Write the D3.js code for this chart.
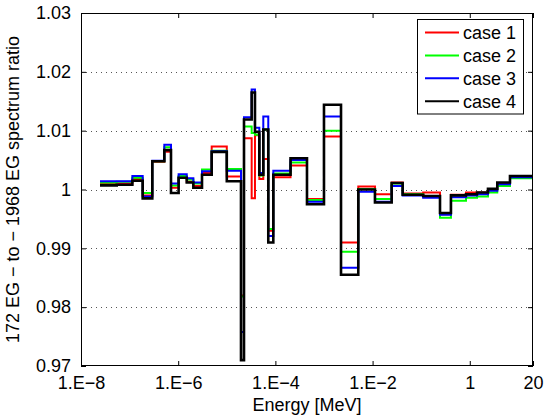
<!DOCTYPE html>
<html>
<head>
<meta charset="utf-8">
<script src="https://cdn.jsdelivr.net/npm/d3@7/dist/d3.min.js"></script>
<style>
  html, body { margin: 0; padding: 0; background: #fff; }
  svg { display: block; font-family: "Liberation Sans", Arial, Helvetica, sans-serif; }
</style>
</head>
<body>
<svg id="chart" width="551" height="418"></svg>
<script>
// Group boundaries [MeV]
const energyEdges = [2.46e-8, 5.43e-8, 1.14e-7, 1.86e-7, 2.93e-7, 5.18e-7, 7.11e-7, 1.02e-6,
  1.50e-6, 2.05e-6, 3.09e-6, 4.89e-6, 1.0e-5, 1.96e-5, 2.26e-5, 3.25e-5, 3.80e-5, 4.67e-5,
  5.64e-5, 7.14e-5, 9.06e-5, 2.05e-4, 4.47e-4, 1.0e-3, 2.24e-3, 5.08e-3, 1.12e-2, 2.47e-2,
  4.16e-2, 0.110, 0.244, 0.410, 0.836, 1.41, 2.37, 3.68, 6.72, 20];

const case1 = [1.0010, 1.0010, 1.0018, 0.9990, 1.0047, 1.0064, 1.0003, 1.0020, 1.0013, 1.0006,
  1.0028, 1.0073, 1.0022, 0.9820, 1.0087, 0.9985, 1.0092, 1.0018, 1.0052, 0.9930,
  1.0021, 1.0041, 0.9984, 1.0090, 0.9910, 1.0005, 0.9992, 1.0012, 0.9993, 0.9995,
  0.9958, 0.9991, 0.9995, 0.9995, 1.0001, 1.0011, 1.0022];
const case2 = [1.0012, 1.0013, 1.0020, 0.9994, 1.0048, 1.0072, 1.0007, 1.0023, 1.0017, 1.0010,
  1.0034, 1.0066, 1.0035, 0.9818, 1.0107, 1.0096, 1.0093, 1.0024, 1.0102, 0.9933,
  1.0027, 1.0046, 0.9982, 1.0100, 0.9894, 1.0001, 0.9984, 1.0010, 0.9992, 0.9988,
  0.9952, 0.9981, 0.9986, 0.9988, 0.9995, 1.0006, 1.0019];
const case3 = [1.0014, 1.0014, 1.0023, 0.9988, 1.0049, 1.0076, 1.0010, 1.0026, 1.0019, 1.0012,
  1.0031, 1.0065, 1.0032, 0.9758, 1.0123, 1.0170, 1.0105, 1.0028, 1.0124, 0.9921,
  1.0032, 1.0050, 0.9979, 1.0124, 0.9867, 0.9996, 0.9979, 1.0006, 0.9990, 0.9986,
  0.9957, 0.9987, 0.9990, 0.9992, 0.9998, 1.0009, 1.0021];
const case4 = [1.0007, 1.0008, 1.0015, 0.9985, 1.0048, 1.0067, 0.9994, 1.0020, 1.0012, 1.0003,
  1.0025, 1.0064, 1.0014, 0.9710, 1.0119, 1.0165, 1.0098, 1.0025, 1.0102, 0.9910,
  1.0025, 1.0053, 0.9975, 1.0144, 0.9855, 1.0000, 0.9978, 1.0011, 0.9991, 0.9989,
  0.9960, 0.9990, 0.9992, 0.9995, 1.0001, 1.0012, 1.0023];

const seriesNames = ["case 1", "case 2", "case 3", "case 4"];
const seriesColors = ["#ff0000", "#00ff00", "#0000ff", "#000000"];
const xTickValues = [1e-8, 1e-6, 1e-4, 1e-2, 1, 20];
const xTickLabels = ["1.E\u22128", "1.E\u22126", "1.E\u22124", "1.E\u22122", "1", "20"];
const yTickValues = [0.97, 0.98, 0.99, 1.00, 1.01, 1.02, 1.03];
const yTickLabels = ["0.97", "0.98", "0.99", "1", "1.01", "1.02", "1.03"];
const gridValues = [0.98, 0.99, 1.00, 1.01, 1.02];

const L = 81, R = 533, T = 13, B = 366;
const svg = d3.select("#chart");
const x = d3.scaleLog().domain([1e-8, 20]).range([L, R]);
const y = d3.scaleLinear().domain([0.97, 1.03]).range([B, T]);

// grid
svg.append("g").selectAll("line").data(gridValues).join("line")
  .attr("x1", L).attr("x2", R)
  .attr("y1", d => Math.round(y(d)) + 0.5).attr("y2", d => Math.round(y(d)) + 0.5)
  .attr("stroke", "#555").attr("stroke-width", 1).attr("stroke-dasharray", "1,4");

// series
const seriesData = [case1, case2, case3, case4];
const widths = [2, 2, 2, 2.6];
const line = d3.line().x(d => x(d[0])).y(d => y(d[1])).curve(d3.curveStepAfter);
seriesData.forEach((vals, i) => {
  const pts = vals.map((v, j) => [energyEdges[j], v]);
  pts.push([energyEdges[energyEdges.length - 1], vals[vals.length - 1]]);
  svg.append("path").datum(pts).attr("d", line)
    .attr("fill", "none").attr("stroke", seriesColors[i])
    .attr("stroke-width", widths[i]).attr("stroke-linejoin", "miter");
});

// frame
svg.append("rect").attr("x", L + 0.5).attr("y", T + 0.5)
  .attr("width", R - L - 1).attr("height", B - T - 1)
  .attr("fill", "none").attr("stroke", "#000").attr("stroke-width", 1);

// axes
const xAxisB = d3.axisBottom(x).tickValues(xTickValues)
  .tickFormat((d, i) => xTickLabels[i]).tickSizeInner(-5).tickSizeOuter(0).tickPadding(10);
const gxb = svg.append("g").attr("transform", `translate(0,${B})`).call(xAxisB);
const xAxisT = d3.axisTop(x).tickValues(xTickValues).tickFormat("").tickSizeInner(-5).tickSizeOuter(0);
const gxt = svg.append("g").attr("transform", `translate(0,${T})`).call(xAxisT);
const yAxisL = d3.axisLeft(y).tickValues(yTickValues)
  .tickFormat((d, i) => yTickLabels[i]).tickSizeInner(-5).tickSizeOuter(0).tickPadding(10);
const gyl = svg.append("g").attr("transform", `translate(${L},0)`).call(yAxisL);
const yAxisR = d3.axisRight(y).tickValues(yTickValues).tickFormat("").tickSizeInner(-5).tickSizeOuter(0);
const gyr = svg.append("g").attr("transform", `translate(${R},0)`).call(yAxisR);
[gxb, gxt, gyl, gyr].forEach(g => {
  g.select(".domain").remove();
  g.selectAll("line").attr("stroke", "#000");
  g.selectAll("text").attr("fill", "#000").attr("font-size", 18)
    .attr("font-family", "Liberation Sans, Arial, sans-serif");
});

// axis titles
svg.append("text").attr("x", (L + R) / 2).attr("y", 411).attr("text-anchor", "middle")
  .attr("font-size", 18).text("Energy [MeV]");
svg.append("text").attr("transform", `translate(19,${(T + B) / 2}) rotate(-90)`)
  .attr("text-anchor", "middle").attr("font-size", 18)
  .text("172 EG \u2212 to \u2212 1968 EG spectrum ratio");

// legend
const lg = svg.append("g");
lg.append("rect").attr("x", 417.5).attr("y", 19.5).attr("width", 106).attr("height", 94.5)
  .attr("fill", "#fff").attr("stroke", "#000").attr("stroke-width", 1);
seriesNames.forEach((n, i) => {
  const yy = 32.5 + i * 22.9;
  lg.append("line").attr("x1", 425).attr("x2", 459).attr("y1", yy).attr("y2", yy)
    .attr("stroke", seriesColors[i]).attr("stroke-width", 2);
  lg.append("text").attr("x", 463).attr("y", yy + 6.5).attr("font-size", 18).text(n);
});
</script>
</body>
</html>
